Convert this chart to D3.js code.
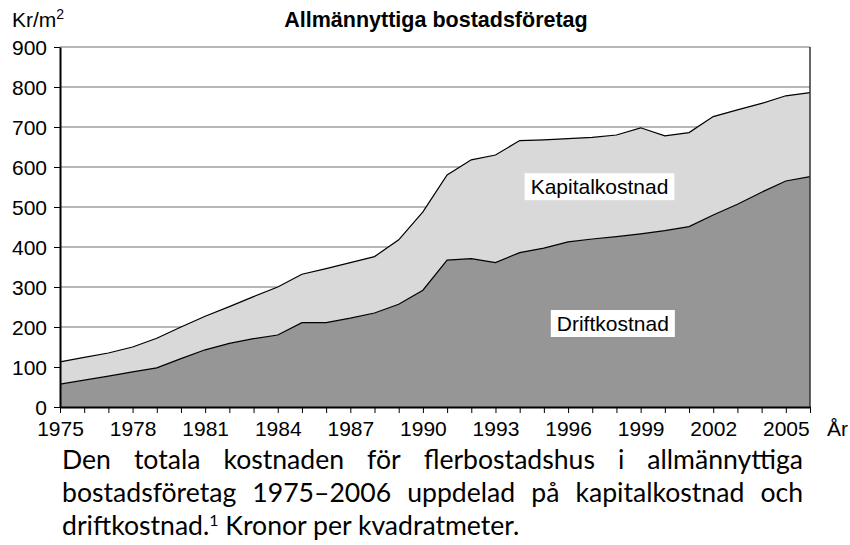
<!DOCTYPE html>
<html lang="sv">
<head>
<meta charset="utf-8">
<style type="text/css">
    body { margin: 0; background: #fff; }
    svg text { font-family: "Liberation Sans", Arial, sans-serif; fill: #000; }
    .caption text { font-family: Lato, "Open Sans", sans-serif; }
    .grid line { stroke: #6e6e6e; stroke-width: 1px; }
    .axis path, .axis line { stroke: #000; }
</style>
</head>
<body>
<svg width="850" height="545"></svg>
<script src="https://d3js.org/d3.v7.min.js"></script>
<script type="text/javascript">

    // årtal och kostnader (kr/m2)
    var years = [1975, 1976, 1977, 1978, 1979, 1980, 1981, 1982, 1983, 1984, 1985,
                 1986, 1987, 1988, 1989, 1990, 1991, 1992, 1993, 1994, 1995, 1996,
                 1997, 1998, 1999, 2000, 2001, 2002, 2003, 2004, 2005, 2006];
    var drift = [57, 67, 77, 88, 98, 121, 143, 159, 171, 180, 211, 211, 222, 235, 257, 292,
                 367, 371, 361, 386, 397, 413, 420, 426, 433, 441, 451, 480, 507, 537, 565, 576];
    var kapital = [56, 57, 58, 62, 74, 79, 84, 92, 105, 120, 121, 135, 139, 141, 161, 196,
                   213, 247, 269, 280, 271, 258, 254, 254, 265, 237, 235, 246, 236, 222, 213, 210];
    var yTicks = [0, 100, 200, 300, 400, 500, 600, 700, 800, 900];
    var xLabels = [1975, 1978, 1981, 1984, 1987, 1990, 1993, 1996, 1999, 2002, 2005];

    var captionLines = [
        "Den totala kostnaden för flerbostadshus i allmännyttiga",
        "bostadsföretag 1975–2006 uppdelad på kapitalkostnad och",
        "driftkostnad.¹ Kronor per kvadratmeter."
    ];

    var svg = d3.select("svg");

    var x = d3.scaleLinear().domain([1975, 2006]).range([60, 810]);
    var y = d3.scaleLinear().domain([0, 900]).range([407, 47]);

    var rows = years.map(function (yr, i) {
        return { year: yr, drift: drift[i], kapital: kapital[i] };
    });
    var series = d3.stack().keys(["drift", "kapital"])(rows);
    var fills = { drift: "#969696", kapital: "#d9d9d9" };

    // gridlines
    svg.append("g")
        .attr("class", "grid")
        .selectAll("line")
        .data(yTicks.slice(1))
        .enter().append("line")
        .attr("x1", x(1975)).attr("x2", x(2006))
        .attr("y1", function (d) { return y(d); })
        .attr("y2", function (d) { return y(d); });

    var area = d3.area()
        .x(function (d) { return x(d.data.year); })
        .y0(function (d) { return y(d[0]); })
        .y1(function (d) { return y(d[1]); });

    var line = d3.line()
        .x(function (d) { return x(d.data.year); })
        .y(function (d) { return y(d[1]); });

    svg.append("g").selectAll("path")
        .data(series)
        .enter().append("path")
        .attr("d", area)
        .attr("fill", function (d) { return fills[d.key]; });

    svg.append("g").selectAll("path")
        .data(series)
        .enter().append("path")
        .attr("d", line)
        .attr("fill", "none")
        .attr("stroke", "#000")
        .attr("stroke-width", 1.2);

    // right border
    svg.append("line")
        .attr("x1", x(2006)).attr("x2", x(2006))
        .attr("y1", y(900)).attr("y2", y(0))
        .attr("stroke", "#333").attr("stroke-width", 1.5);

    // axes
    var xAxis = d3.axisBottom(x)
        .tickValues(years)
        .tickSize(6)
        .tickSizeOuter(0)
        .tickFormat(function (d) { return xLabels.indexOf(d) >= 0 ? d : ""; });

    var gx = svg.append("g")
        .attr("class", "axis")
        .attr("transform", "translate(0," + y(0) + ")")
        .call(xAxis);
    gx.select(".domain").attr("stroke-width", 2);
    gx.selectAll("text").attr("font-size", 21).attr("dy", 0).attr("y", 29);

    var yAxis = d3.axisLeft(y)
        .tickValues(yTicks)
        .tickSize(6)
        .tickSizeOuter(0);

    var gy = svg.append("g")
        .attr("class", "axis")
        .attr("transform", "translate(" + x(1975) + ",0)")
        .call(yAxis);
    gy.select(".domain").attr("stroke-width", 2);
    gy.selectAll(".tick line").attr("stroke", "#6e6e6e");
    gy.selectAll("text").attr("font-size", 21).attr("x", -13).attr("dy", "0.36em");

    // titles
    svg.append("text")
        .attr("x", 436).attr("y", 27)
        .attr("text-anchor", "middle")
        .attr("font-size", 21.5)
        .attr("font-weight", "bold")
        .text("Allmännyttiga bostadsföretag");

    var unit = svg.append("text")
        .attr("x", 12).attr("y", 27)
        .attr("font-size", 21)
        .text("Kr/m");
    unit.append("tspan")
        .attr("font-size", 14)
        .attr("dy", -8)
        .text("2");

    svg.append("text")
        .attr("x", 827).attr("y", 436)
        .attr("font-size", 21)
        .text("År");

    // series labels in white boxes
    function boxLabel(txt, year, val) {
        var g = svg.append("g");
        var t = g.append("text")
            .attr("x", x(year)).attr("y", y(val))
            .attr("text-anchor", "middle")
            .attr("font-size", 21)
            .text(txt);
        var bb = t.node().getBBox();
        g.insert("rect", "text")
            .attr("x", bb.x - 6).attr("y", bb.y - 2)
            .attr("width", bb.width + 12).attr("height", bb.height + 4)
            .attr("fill", "#fff");
    }
    boxLabel("Kapitalkostnad", 1997.3, 532);
    boxLabel("Driftkostnad", 1997.85, 190);

    // caption, justified like the source text
    var cap = svg.append("g").attr("class", "caption");
    var left = 62, right = 803, lastEnd = 519;

    // size the font so the last (unjustified) line has the same length as in the source
    var probe = cap.append("text").attr("font-size", 20).text(captionLines[2]);
    var fs = 20 * (lastEnd - left) / probe.node().getComputedTextLength();
    probe.remove();

    captionLines.forEach(function (ln, i) {
        var by = 469 + i * 33;
        var words = ln.split(" ");
        if (i === captionLines.length - 1) {
            var t = cap.append("text").attr("x", left).attr("y", by).attr("font-size", fs);
            t.append("tspan").text("driftkostnad.");
            t.append("tspan").attr("font-size", fs * 0.6).attr("dy", -9).text("1");
            t.append("tspan").attr("dy", 9).text(" Kronor per kvadratmeter.");
            return;
        }
        var nodes = words.map(function (w) {
            return cap.append("text").attr("y", by).attr("font-size", fs).text(w);
        });
        var widths = nodes.map(function (n) { return n.node().getComputedTextLength(); });
        var gap = (right - left - d3.sum(widths)) / (words.length - 1);
        var cx = left;
        nodes.forEach(function (n, j) {
            n.attr("x", cx);
            cx += widths[j] + gap;
        });
    });

</script>
</body>
</html>
